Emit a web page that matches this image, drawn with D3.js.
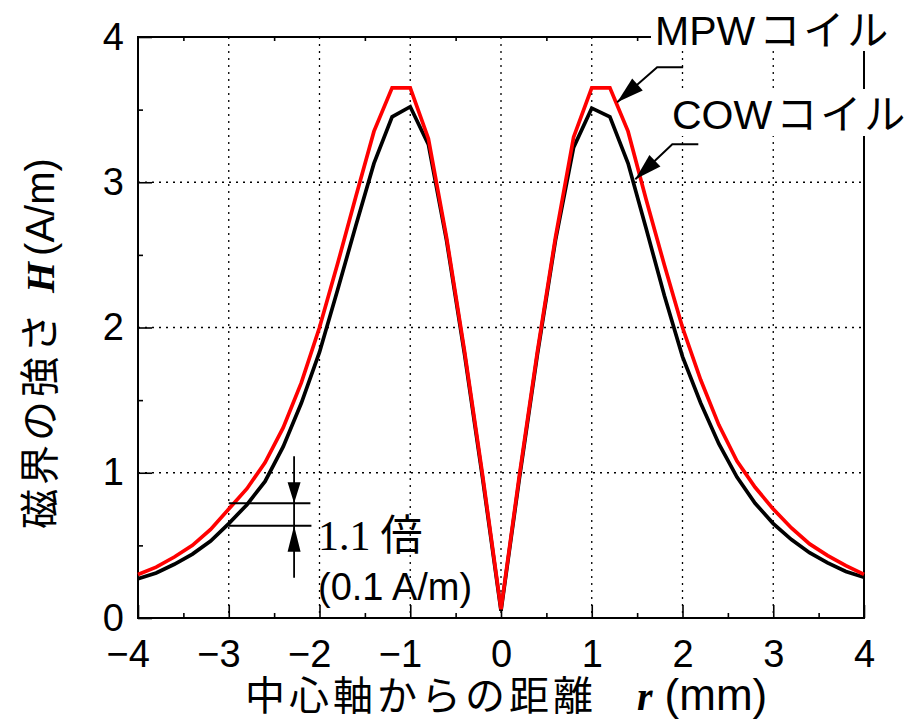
<!DOCTYPE html>
<html>
<head>
<meta charset="utf-8">
<script src="https://cdn.jsdelivr.net/npm/d3@7"></script>
<style>
body {margin:0; background:#fff}
svg text {font-family:"Liberation Sans", Arial, sans-serif}
.jp {font-family:"Noto Sans CJK JP", sans-serif}
.serif {font-family:"Liberation Serif", "Times New Roman", serif}
</style>
</head>
<body>
<svg></svg>
<script>
// distance from the centre axis r (mm)
var rValues = [-4.0,-3.8,-3.6,-3.4,-3.2,-3.0,-2.8,-2.6,-2.4,-2.2,-2.0,-1.8,-1.6,-1.4,-1.2,-1.0,-0.8,-0.6,-0.4,-0.2,
               0,
               0.2,0.4,0.6,0.8,1.0,1.2,1.4,1.6,1.8,2.0,2.2,2.4,2.6,2.8,3.0,3.2,3.4,3.6,3.8,4.0]
// MPW coil, field strength H (A/m)
var mpwValues = [0.30,0.35,0.42,0.50,0.61,0.75,0.89,1.07,1.31,1.62,2.00,2.44,2.90,3.35,3.65,3.65,3.30,2.62,1.83,0.97,
                 0.06,
                 0.97,1.83,2.62,3.31,3.65,3.65,3.35,2.88,2.43,2.00,1.64,1.33,1.08,0.90,0.75,0.62,0.51,0.43,0.36,0.30]
// COW coil
var cowValues = [0.27,0.31,0.37,0.44,0.53,0.65,0.78,0.94,1.18,1.48,1.83,2.26,2.70,3.13,3.45,3.52,3.26,2.60,1.81,0.95,
                 0.05,
                 0.95,1.81,2.60,3.24,3.51,3.45,3.13,2.68,2.22,1.80,1.48,1.20,0.97,0.79,0.65,0.54,0.45,0.38,0.32,0.28]

var xTicks = [-4,-3,-2,-1,0,1,2,3,4]
var xTickLabels = ["\u22124","\u22123","\u22122","\u22121","0","1","2","3","4"]
var xMinorTicks = [-3.5,-2.5,-1.5,-0.5,0.5,1.5,2.5,3.5]
var yTicks = [0,1,2,3,4]
var yTickLabels = ["0","1","2","3","4"]
var yMinorTicks = [0.5,1.5,2.5,3.5]

var screen = {width: 912, height: 720}
var margins = {top:37, right:48, bottom:102, left:138}

var setup = function()
{
    var svg = d3.select("svg")
        .attr("width", screen.width)
        .attr("height", screen.height)

    var width = screen.width - margins.left - margins.right;
    var height = screen.height - margins.top - margins.bottom;

    var xScale = d3.scaleLinear()
                    .domain([-4,4])
                    .range([0,width])
    var yScale = d3.scaleLinear()
                    .domain([0,4])
                    .range([height,0])

    var graph = svg.append("g")
        .attr("id","graph")
        .attr("transform","translate("+margins.left+","+margins.top+")");

    drawGrid(graph, xScale, yScale, width, height);
    drawAxes(graph, xScale, yScale, width, height);
    drawLines(graph, xScale, yScale);
    drawNotes(graph, xScale, yScale);
    drawTitles(svg);
}

var drawGrid = function(graph, xScale, yScale, width, height)
{
    var grid = graph.append("g")
        .attr("stroke","#000")
        .attr("stroke-width",1.3)
        .attr("stroke-dasharray","2,5")

    grid.selectAll("line.vgrid")
        .data(xTicks.slice(1,-1))
        .enter()
        .append("line")
        .attr("x1", function(d){return xScale(d)})
        .attr("x2", function(d){return xScale(d)})
        .attr("y1", 0)
        .attr("y2", height)

    grid.selectAll("line.hgrid")
        .data(yTicks.slice(1,-1))
        .enter()
        .append("line")
        .attr("x1", 0)
        .attr("x2", width)
        .attr("y1", function(d){return yScale(d)})
        .attr("y2", function(d){return yScale(d)})
}

var drawAxes = function(graph, xScale, yScale, width, height)
{
    // major ticks with labels
    var xAxis = d3.axisBottom(xScale)
        .tickValues(xTicks)
        .tickSize(-13)
        .tickPadding(22)
        .tickFormat(function(d,i){return xTickLabels[i]})
    var yAxis = d3.axisLeft(yScale)
        .tickValues(yTicks)
        .tickSize(-14)
        .tickPadding(14)
        .tickFormat(function(d,i){return yTickLabels[i]})

    var gx = graph.append("g")
        .attr("id","xAxis")
        .attr("transform","translate(0,"+height+")")
        .call(xAxis)
    var gy = graph.append("g")
        .attr("id","yAxis")
        .call(yAxis)

    // minor ticks
    graph.append("g")
        .attr("transform","translate(0,"+height+")")
        .call(d3.axisBottom(xScale).tickValues(xMinorTicks).tickSize(-5).tickFormat(""))
    graph.append("g")
        .call(d3.axisTop(xScale).tickValues(xMinorTicks).tickSize(-4).tickFormat(""))
    graph.append("g")
        .call(d3.axisLeft(yScale).tickValues(yMinorTicks).tickSize(-5).tickFormat(""))

    graph.selectAll(".domain").remove()
    graph.selectAll(".tick line").attr("stroke","#000").attr("stroke-width",1.6)

    gx.selectAll(".tick text")
        .attr("font-size",38)
        .attr("font-family","Liberation Sans, Arial, sans-serif")
        .attr("fill","#000")
        .attr("text-anchor", function(d){return d<0 ? "end" : "middle"})
        .attr("dx", function(d){return d<0 ? "0.3em" : 0})
    gy.selectAll(".tick text")
        .attr("font-size",38)
        .attr("font-family","Liberation Sans, Arial, sans-serif")
        .attr("fill","#000")

    // frame
    graph.append("rect")
        .attr("x",0)
        .attr("y",0)
        .attr("width",width)
        .attr("height",height)
        .attr("fill","none")
        .attr("stroke","#000")
        .attr("stroke-width",2)
}

var drawLines = function(graph, xScale, yScale)
{
    var lineGenerator = d3.line()
        .x(function(d){return xScale(d.r)})
        .y(function(d){return yScale(d.h)})

    var series = [
        {name:"COW", color:"#000", values:cowValues},
        {name:"MPW", color:"#ff0000", values:mpwValues}
    ]

    graph.selectAll("path.series")
        .data(series)
        .enter()
        .append("path")
        .attr("class","series")
        .attr("fill","none")
        .attr("stroke", function(s){return s.color})
        .attr("stroke-width",3.7)
        .attr("stroke-linejoin","miter")
        .attr("d", function(s){
            return lineGenerator(s.values.map(function(h,i){return {r:rValues[i], h:h}}))
        })
}

var arrowHead = function(tx, ty, fx, fy, len, half)
{
    var dx = tx-fx, dy = ty-fy
    var l = Math.sqrt(dx*dx+dy*dy)
    var ux = dx/l, uy = dy/l
    var bx = tx-ux*len, by = ty-uy*len
    return "M"+tx+","+ty+"L"+(bx-uy*half)+","+(by+ux*half)+"L"+(bx+uy*half)+","+(by-ux*half)+"Z"
}

var drawNotes = function(graph, xScale, yScale)
{
    var notes = graph.append("g")

    // coil labels with white backing, they cut the frame and grid
    var labels = [
        {main:"MPW", jp:"コイル", x:517, y:8, box:[513,-33,250,47]},
        {main:"COW", jp:"コイル", x:534, y:92, box:[530,52,240,47]}
    ]
    labels.forEach(function(lb){
        notes.append("rect")
            .attr("x",lb.box[0]).attr("y",lb.box[1])
            .attr("width",lb.box[2]).attr("height",lb.box[3])
            .attr("fill","#fff")
        var t = notes.append("text")
            .attr("x",lb.x).attr("y",lb.y)
            .attr("font-size",41)
            .attr("fill","#000")
        t.append("tspan").text(lb.main)
        t.append("tspan").attr("class","jp").attr("dx",4).attr("letter-spacing",3).text(lb.jp)
    })

    // leader arrows pointing at the curves
    var leaders = [
        {tip:[1.28,3.55], elbow:[40,-35], end:66},
        {tip:[1.48,3.02], elbow:[37,-35], end:63}
    ]
    leaders.forEach(function(ld){
        var tx = xScale(ld.tip[0]), ty = yScale(ld.tip[1])
        var ex = tx+ld.elbow[0], ey = ty+ld.elbow[1]
        notes.append("path")
            .attr("d","M"+(tx+ld.end)+","+ey+"L"+ex+","+ey+"L"+tx+","+ty)
            .attr("fill","none")
            .attr("stroke","#000")
            .attr("stroke-width",2)
        notes.append("path")
            .attr("d",arrowHead(tx,ty,ex,ey,27,8))
            .attr("fill","#000")
    })

    // 1.1x gap marker between the curves at r = -3
    var upper = yScale(0.79), lower = yScale(0.635)
    var x0 = xScale(-3), x1 = xScale(-2.1), xm = xScale(-2.28)
    notes.append("path")
        .attr("d","M"+x0+","+upper+"H"+x1+"M"+x0+","+lower+"H"+(x1+1)
                 +"M"+xm+","+(upper-47)+"V"+(lower+52))
        .attr("fill","none")
        .attr("stroke","#000")
        .attr("stroke-width",1.8)
    notes.append("path")
        .attr("d",arrowHead(xm,upper,xm,upper-30,21,6.5)+arrowHead(xm,lower,xm,lower+30,26,6.5))
        .attr("fill","#000")

    var ratio = notes.append("text")
        .attr("x",180).attr("y",513)
        .attr("font-size",42)
        .attr("fill","#000")
    ratio.append("tspan").attr("class","serif").text("1.1")
    ratio.append("tspan").attr("class","jp").attr("dx",10).text("倍")

    notes.append("text")
        .attr("x",180).attr("y",563)
        .attr("font-size",38)
        .attr("fill","#000")
        .text("(0.1 A/m)")
}

var drawTitles = function(svg)
{
    var xt = svg.append("text")
        .attr("x",245).attr("y",710)
        .attr("font-size",40)
        .attr("fill","#000")
    xt.append("tspan").attr("class","jp").attr("letter-spacing",4).text("中心軸からの距離")
    xt.append("tspan").attr("class","serif").attr("dx",40)
        .attr("font-weight","bold").attr("font-style","italic").text("r")
    xt.append("tspan").attr("dx",12).attr("font-size",44).text("(mm)")

    var yt = svg.append("text")
        .attr("transform","translate(54,529) rotate(-90)")
        .attr("font-size",40)
        .attr("fill","#000")
    yt.append("tspan").attr("class","jp").attr("letter-spacing",4).text("磁界の強さ")
    yt.append("tspan").attr("class","serif").attr("dx",16)
        .attr("font-weight","bold").attr("font-style","italic").text("H")
    yt.append("tspan").attr("dx",6).text("(A/m)")
}

setup();
</script>
</body>
</html>
